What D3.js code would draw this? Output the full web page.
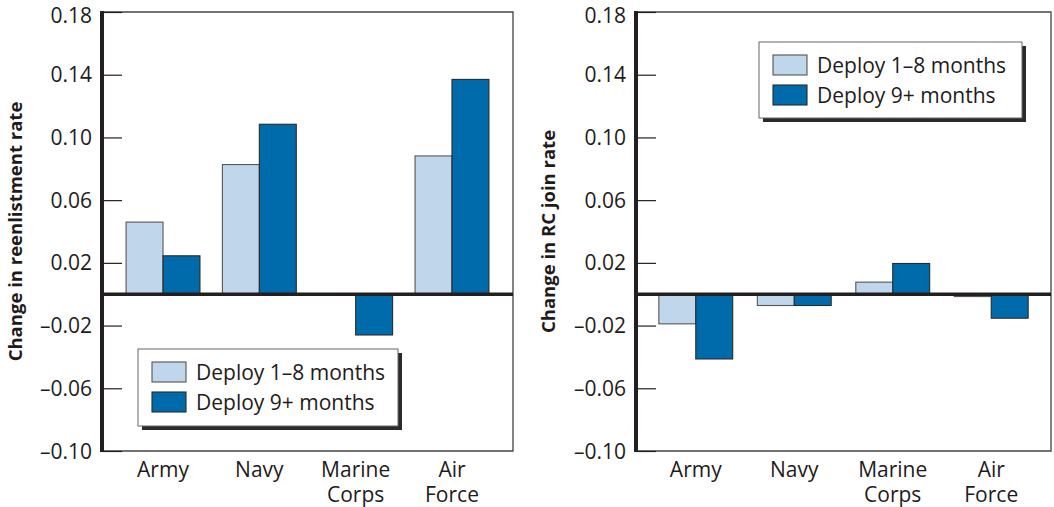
<!DOCTYPE html>
<html><head><meta charset="utf-8">
<script src="https://cdn.jsdelivr.net/npm/d3@7/dist/d3.min.js"></script>
<style>body{margin:0;background:#fff}svg{display:block}text{font-family:"Open Sans",sans-serif;fill:#1f1b1c}</style>
</head><body>
<svg id="c" width="1054" height="507"></svg>
<script>
const categories = [["Army"], ["Navy"], ["Marine", "Corps"], ["Air", "Force"]];
const seriesNames = ["Deploy 1–8 months", "Deploy 9+ months"];
const tickValues = [0.18, 0.14, 0.10, 0.06, 0.02, -0.02, -0.06, -0.10];
const reenlistShort = [0.046, 0.0827, 0, 0.0882];
const reenlistLong = [0.0245, 0.1084, -0.026, 0.137];
const rcShort = [-0.0189, -0.0072, 0.0077, -0.0015];
const rcLong = [-0.0413, -0.0072, 0.0196, -0.0153];
const yTitles = ["Change in reenlistment rate", "Change in RC join rate"];

const colors = ["#c0d6eb", "#006bab"];
const strokes = ["#555", "#2a2a2a"];
const svg = d3.select("#c");
const fmt = v => (v < 0 ? "\u2013" : "") + Math.abs(v).toFixed(2);

function panel(o) {
  const g = svg.append("g");
  const y = d3.scaleLinear().domain([-0.10, 0.18]).range([o.bottom, o.top]);
  const keys = categories.map(c => c.join(" "));
  const x = d3.scaleBand().domain(keys).range([o.left, o.right]).paddingInner(o.pi).paddingOuter(o.po);
  const xs = d3.scaleBand().domain([0, 1]).range([0, x.bandwidth()]);

  g.append("path").attr("d", `M${o.left},${o.top}H${o.right}V${o.bottom}H${o.left}`)
    .attr("fill", "none").attr("stroke", "#444").attr("stroke-width", 1.3);

  const ax = g.append("g").attr("transform", `translate(${o.left},0)`)
    .call(d3.axisRight(y).tickValues(tickValues).tickSize(20).tickFormat(""));
  ax.select(".domain").remove();
  ax.selectAll(".tick line").attr("stroke", "#231f20").attr("stroke-width", 1.2);
  g.selectAll(".ylab").data(tickValues).join("text")
    .attr("x", o.left - 10).attr("y", d => Math.max(y(d) + 7.5, 22.5))
    .attr("text-anchor", "end").attr("font-size", 21).text(fmt);

  const data = [];
  o.values.forEach((arr, s) => arr.forEach((v, i) => { if (v !== 0) data.push({ s, i, v }); }));
  g.selectAll(".bar").data(data).join("rect")
    .attr("x", d => x(keys[d.i]) + xs(d.s)).attr("width", xs.bandwidth())
    .attr("y", d => y(Math.max(0, d.v))).attr("height", d => Math.abs(y(d.v) - y(0)))
    .attr("fill", d => colors[d.s]).attr("stroke", d => strokes[d.s]).attr("stroke-width", 1.1);

  g.append("line").attr("x1", o.left).attr("x2", o.right).attr("y1", y(0)).attr("y2", y(0))
    .attr("stroke", "#231f20").attr("stroke-width", 3.5);
  g.append("line").attr("x1", o.left).attr("x2", o.left).attr("y1", o.top - 1).attr("y2", o.bottom + 1)
    .attr("stroke", "#231f20").attr("stroke-width", 4);

  categories.forEach((c, i) => {
    const cx = x(keys[i]) + x.bandwidth() / 2;
    const t = g.append("text").attr("text-anchor", "middle").attr("font-size", 21).attr("x", cx).attr("y", 477);
    c.forEach((line, j) => t.append("tspan").attr("x", cx).attr("dy", j === 0 ? 0 : 25).text(line));
  });

  g.append("text").attr("transform", `translate(${o.titleX},${(o.top + o.bottom) / 2}) rotate(-90)`)
    .attr("text-anchor", "middle").attr("font-size", 18.5).attr("font-weight", "bold").text(o.title);

  const L = o.legend;
  g.append("rect").attr("x", L.x + 4).attr("y", L.y + 4).attr("width", L.w).attr("height", L.h).attr("fill", "#2a2a2a");
  g.append("rect").attr("x", L.x).attr("y", L.y).attr("width", L.w).attr("height", L.h)
    .attr("fill", "#fff").attr("stroke", "#666").attr("stroke-width", 1);
  seriesNames.forEach((n, s) => {
    g.append("rect").attr("x", L.x + 14).attr("y", L.y + 13 + s * 30).attr("width", 34).attr("height", 20)
      .attr("fill", colors[s]).attr("stroke", strokes[s]).attr("stroke-width", 1.1);
    g.append("text").attr("x", L.x + 58).attr("y", L.y + 31 + s * 30)
      .attr("font-size", 21).text(n);
  });
}

panel({ left: 102, right: 513, top: 12, bottom: 451, pi: 0.233, po: 0.25, values: [reenlistShort, reenlistLong],
  title: yTitles[0], titleX: 22, legend: { x: 138, y: 349, w: 260, h: 77 } });
panel({ left: 636, right: 1051, top: 12, bottom: 451, pi: 0.25, po: 0.232, values: [rcShort, rcLong],
  title: yTitles[1], titleX: 555, legend: { x: 759, y: 42, w: 263, h: 76 } });
</script>
</body></html>
